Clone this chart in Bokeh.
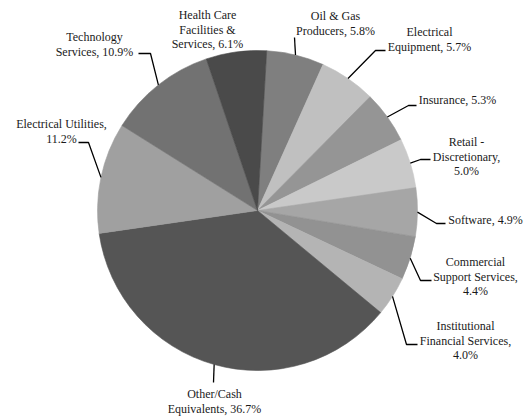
import math
from bokeh.plotting import figure
from bokeh.models import Range1d, ColumnDataSource
from bokeh.core.properties import value
from bokeh.embed import file_html
from bokeh.resources import INLINE

# ---- data (clockwise from the top) ----
categories = ["Oil & Gas\nProducers", "Electrical\nEquipment", "Insurance", "Retail -\nDiscretionary,",
              "Software", "Commercial\nSupport Services,", "Institutional\nFinancial Services,",
              "Other/Cash\nEquivalents", "Electrical Utilities,", "Technology\nServices",
              "Health Care\nFacilities &\nServices"]
shares = [5.8, 5.7, 5.3, 5.0, 4.9, 4.4, 4.0, 36.7, 11.2, 10.9, 6.1]
label_sep = [", ", ", ", ", ", "\n", ", ", "\n", "\n", ", ", "\n", ", ", ", "]

# ---- styles / layout ----
colors = ["#7f7f7f", "#c0c0c0", "#959595", "#c9c9c9", "#a6a6a6", "#929292",
          "#b4b4b4", "#555555", "#a0a0a0", "#727272", "#4a4a4a"]
W, H = 526, 418
CX, CY, R = 257, 210, 160          # picture-pixel pie centre / radius
START_OFFSET = 3.3                 # degrees clockwise from 12 o'clock
# label first-line centre (picture px) and leader elbow points (picture px)
label_pos = [(335, 16), (429, 32), (457, 100), (466, 142), (485, 220), (475, 262),
             (465, 326), (214, 394), (61, 124), (94, 37), (207, 15)]
elbow_pts = [[(294, 37)], [(385, 50), (375, 50)], [(416, 105), (408, 105)],
             [(430, 159), (420, 159)], [(445, 223), (436, 223)], [(431, 280), (420, 280)],
             [(417, 344), (406, 344)], [(213, 382)], [(78, 142), (88, 142)],
             [(138, 53), (150, 53)], None]


def px(x):
    return x


def py(y):
    return H - y


p = figure(width=W, height=H, output_backend="svg", toolbar_location=None,
           x_range=Range1d(0, W), y_range=Range1d(0, H), min_border=0)
p.axis.visible = False
p.grid.visible = False
p.outline_line_color = None
p.background_fill_color = "white"

total = sum(shares)
starts, ends, mids = [], [], []
acc = 0.0
for s in shares:
    a0 = START_OFFSET + acc / total * 360.0
    acc += s
    a1 = START_OFFSET + acc / total * 360.0
    starts.append(math.radians(90 - a0))
    ends.append(math.radians(90 - a1))
    mids.append((a0 + a1) / 2)

src = ColumnDataSource(dict(start=starts, end=ends, color=colors))
p.wedge(x=px(CX), y=py(CY), radius=R, start_angle="start", end_angle="end",
        direction="clock", fill_color="color", line_color="color", line_width=0.6, source=src)

# leader lines
for i, m in enumerate(mids):
    if elbow_pts[i] is None:
        continue
    ex = CX + R * math.sin(math.radians(m))
    ey = CY - R * math.cos(math.radians(m))
    pts = list(elbow_pts[i]) + [(ex, ey)]
    p.line([px(a) for a, b in pts], [py(b) for a, b in pts], line_color="black", line_width=1.3)

# labels
texts = [f"{c}{sep}{s:.1f}%" for c, sep, s in zip(categories, label_sep, shares)]
LH = 14.4
tx = [px(x) for x, y in label_pos]
ty = [py(y) + LH / 2 + 0.5 for x, y in label_pos]
p.text(x=tx, y=ty, text=texts, text_align="center", text_baseline="top",
       text_font=value("Liberation Serif"), text_font_size="12px", text_color="#1a1a1a",
       text_line_height=1.06)

open("out.html", "w").write(file_html(p, INLINE))
